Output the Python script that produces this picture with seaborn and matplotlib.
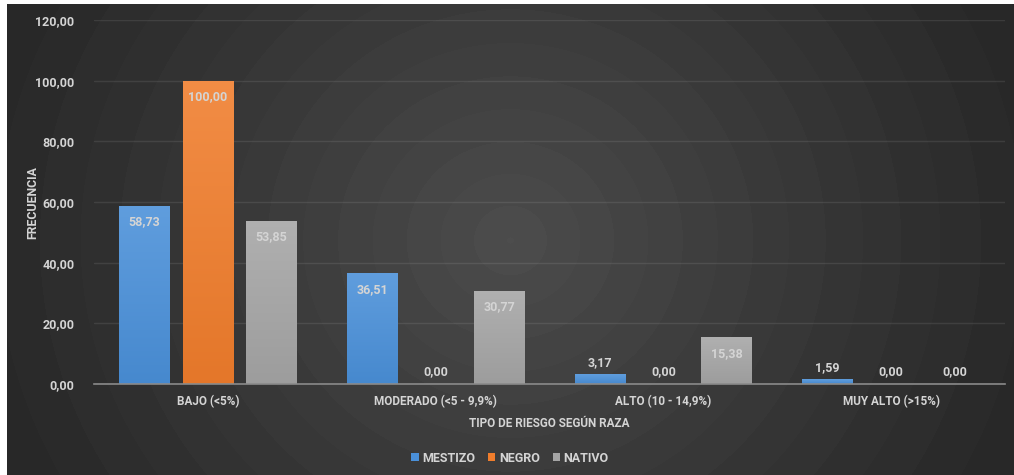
import numpy as np
import pandas as pd
import matplotlib
matplotlib.use("Agg")
import matplotlib.pyplot as plt
from matplotlib.colors import LinearSegmentedColormap, to_rgb
from matplotlib.patches import Patch
import seaborn as sns

# Data
categorias = ["BAJO (<5%)", "MODERADO (<5 - 9,9%)", "ALTO (10 - 14,9%)", "MUY ALTO (>15%)"]
razas = ["MESTIZO", "NEGRO", "NATIVO"]
mestizo = [58.73, 36.51, 3.17, 1.59]
negro = [100.00, 0.00, 0.00, 0.00]
nativo = [53.85, 30.77, 15.38, 0.00]
y_ticks = [0, 20, 40, 60, 80, 100, 120]

colores = {"MESTIZO": "#4a90d9", "NEGRO": "#f07d2c", "NATIVO": "#a5a5a5"}
texto = "#d4d4d4"

df = pd.DataFrame({
    "categoria": categorias * 3,
    "raza": [r for r in razas for _ in categorias],
    "valor": mestizo + negro + nativo,
})

sns.set_style("dark")
plt.rcParams["font.family"] = ["Roboto", "DejaVu Sans"]

W, H = 1014, 475
fig = plt.figure(figsize=(W / 100, H / 100), dpi=100, facecolor="white")

# Dark radial-gradient background panel
bg = fig.add_axes([7 / W, 0, (W - 7) / W, (H - 4) / H], zorder=0)
bw, bh = W - 7, H - 4
yy, xx = np.mgrid[0:bh, 0:bw]
r = np.hypot(xx - 503, (yy - 236) * 1.05)
v = 0.145 + 0.155 * np.clip(1 - r / 600, 0, 1) ** 1.15
v = np.round(v * 255 / 2.5) * 2.5 / 255
bg.imshow(np.dstack([v, v, v]), aspect="auto", interpolation="bilinear")
bg.axis("off")

ax = fig.add_axes([94 / W, 91 / H, 911 / W, 364 / H], zorder=1)
ax.patch.set_alpha(0)

sns.barplot(data=df, x="categoria", y="valor", hue="raza", order=categorias,
            hue_order=razas, palette=colores, width=0.835, gap=0.2,
            saturation=1, legend=False, ax=ax, edgecolor="none", linewidth=0)

ax.set_ylim(0, 120)
ax.set_xlim(-0.5, 3.5)
ax.set_yticks(y_ticks)
ax.set_yticklabels([f"{t:.2f}".replace(".", ",") for t in y_ticks],
                   color=texto, fontsize=9, fontweight="bold")
ax.tick_params(axis="x", colors=texto, labelsize=8.5, length=0, pad=8)
ax.tick_params(axis="y", length=0, pad=14)
for lbl in ax.get_xticklabels():
    lbl.set_fontweight("bold")
    lbl.set_color(texto)

ax.grid(axis="y", color="white", alpha=0.09, linewidth=1)
ax.grid(axis="x", visible=False)
for s in ["top", "right", "left"]:
    ax.spines[s].set_visible(False)
ax.spines["bottom"].set_color("#8a8a8a")
ax.spines["bottom"].set_linewidth(1.2)

ax.set_xlabel("TIPO DE RIESGO SEGÚN RAZA", color=texto, fontsize=8.5,
              fontweight="bold", labelpad=6)
ax.set_ylabel("FRECUENCIA", color=texto, fontsize=8.8, fontweight="bold")
ax.yaxis.set_label_coords((39 - 94) / 911, (384 - 203) / 364)


def lighten(c, f):
    c = np.array(to_rgb(c))
    return tuple(c + (1 - c) * f)


def darken(c, f):
    c = np.array(to_rgb(c))
    return tuple(c * (1 - f))


# Vertical gradient fill on each bar, plus value labels
series = [mestizo, negro, nativo]
for cont, raza, vals in zip(ax.containers, razas, series):
    base = colores[raza]
    cmap = LinearSegmentedColormap.from_list(raza, [darken(base, 0.05), lighten(base, 0.12)])
    for patch, val in zip(cont.patches, vals):
        x0, w = patch.get_x(), patch.get_width()
        xc = x0 + w / 2
        if val > 0:
            grad = np.linspace(0, 1, 256).reshape(-1, 1)
            im = ax.imshow(grad, cmap=cmap, origin="lower", aspect="auto",
                           extent=[x0, x0 + w, 0, val], zorder=2)
            im.set_clip_path(patch)
            patch.set_facecolor("none")
        label = f"{val:.2f}".replace(".", ",")
        offset = -16 if val > 10 else 12
        ax.annotate(label, (xc, val), xytext=(0, offset), textcoords="offset pixels",
                    ha="center", va="center", color=texto, fontsize=9,
                    fontweight="bold", zorder=3)
ax.set_xlim(-0.5, 3.5)
ax.set_ylim(0, 120)

handles = [Patch(facecolor=colores[r], edgecolor="none", label=r) for r in razas]
fig.legend(handles=handles, loc="center", bbox_to_anchor=(510 / W, 17 / H), ncol=3,
           frameon=False, handlelength=0.6, handleheight=0.6,
           handletextpad=0.3, columnspacing=1.0, labelcolor=texto,
           prop={"weight": "bold", "size": 9})

fig.savefig("out.png", dpi=100, facecolor="white")
